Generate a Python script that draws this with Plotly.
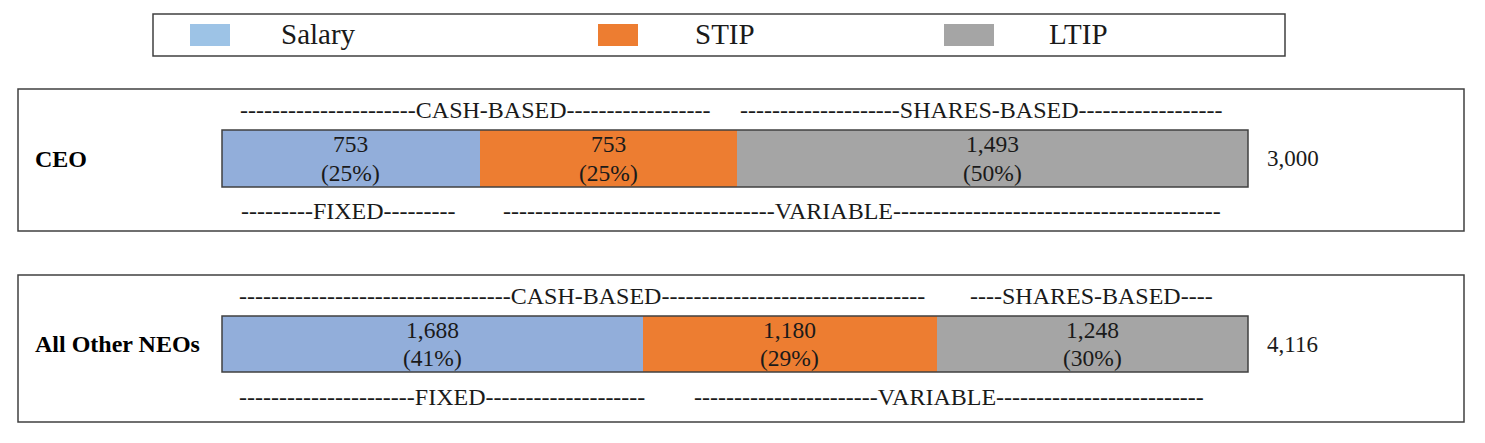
import plotly.graph_objects as go

# ---------------- data ----------------
series = ["Salary", "STIP", "LTIP"]
groups = ["CEO", "All Other NEOs"]
ceo_values = [753, 753, 1493]
neo_values = [1688, 1180, 1248]
totals = [3000, 4116]

# ---------------- style ----------------
W, H = 1485, 443
bar_colors = ["#92AEDA", "#ED7D31", "#A5A5A5"]
legend_colors = ["#9DC3E6", "#ED7D31", "#A5A5A5"]
FONT = "Liberation Serif, Times New Roman, serif"
TXT = "#1a1a1a"
EDGE = "#404040"


def px(x):
    return x / W


def py(y):
    return 1 - y / H


fig = go.Figure()

rows = [("x", "y", ceo_values), ("x2", "y2", neo_values)]
for xa, ya, vals in rows:
    for i, name in enumerate(series):
        fig.add_trace(go.Bar(
            x=[vals[i]], y=[0], orientation="h", name=name,
            xaxis=xa, yaxis=ya, width=1,
            marker=dict(color=bar_colors[i], line=dict(width=0)),
            showlegend=False, hoverinfo="x+name",
        ))

bar_x0, bar_x1 = 222, 1248
bar_y = [(130, 187), (316, 372)]

layout_axes = {}
for k, (vals, (yt, yb)) in enumerate(zip([ceo_values, neo_values], bar_y)):
    sfx = "" if k == 0 else "2"
    layout_axes["xaxis" + sfx] = dict(
        domain=[px(bar_x0), px(bar_x1)], range=[0, sum(vals)],
        visible=False, anchor="y" + sfx, fixedrange=True)
    layout_axes["yaxis" + sfx] = dict(
        domain=[py(yb), py(yt)], range=[-0.5, 0.5],
        visible=False, anchor="x" + sfx, fixedrange=True)

annotations = []
shapes = []

# value labels inside bars (value line + percentage line)
for k, vals in enumerate([ceo_values, neo_values]):
    sfx = "" if k == 0 else "2"
    tot = sum(vals)
    cum = 0
    for v in vals:
        pct = round(100 * v / tot)
        for txt, yy in [(f"{v:,}", 0.25), (f"({pct}%)", -0.25)]:
            annotations.append(dict(
                x=cum + v / 2, y=yy, xref="x" + sfx, yref="y" + sfx,
                text=txt, showarrow=False, yanchor="middle",
                font=dict(family=FONT, size=23.5, color=TXT), align="center"))
        cum += v
    # outline of whole bar
    shapes.append(dict(type="rect", xref="x" + sfx + " domain", yref="y" + sfx + " domain",
                       x0=0, x1=1, y0=0, y1=1, line=dict(color=EDGE, width=1.5)))

# totals to the right
for k, (tot, (yt, yb)) in enumerate(zip(totals, bar_y)):
    annotations.append(dict(
        x=px(1265), y=py((yt + yb) / 2), xref="paper", yref="paper",
        xanchor="left", yanchor="middle", text=f"{tot:,}", showarrow=False,
        font=dict(family=FONT, size=23, color=TXT)))

# group labels
for k, (g, (yt, yb)) in enumerate(zip(groups, bar_y)):
    annotations.append(dict(
        x=px(33), y=py((yt + yb) / 2), xref="paper", yref="paper",
        xanchor="left", yanchor="middle", text=f"<b>{g}</b>", showarrow=False,
        font=dict(family=FONT, size=24, color="#000000")))

# panel boxes
for (y0, y1) in [(89, 231), (275, 422)]:
    shapes.append(dict(type="rect", xref="paper", yref="paper",
                       x0=px(18), x1=px(1464), y0=py(y1), y1=py(y0),
                       line=dict(color=EDGE, width=1.5)))

# dashed bracket labels: (word, left dashes, right dashes, center x, center y)
brackets = [
    ("CASH-BASED", 22, 18, 475, 110),
    ("SHARES-BASED", 20, 18, 981, 110),
    ("FIXED", 9, 9, 348, 211),
    ("VARIABLE", 34, 41, 862, 211),
    ("CASH-BASED", 34, 33, 582, 296),
    ("SHARES-BASED", 4, 4, 1091, 296),
    ("FIXED", 22, 20, 442, 397),
    ("VARIABLE", 23, 26, 949, 397),
]
for word, nl, nr, cx, cy in brackets:
    annotations.append(dict(
        x=px(cx), y=py(cy), xref="paper", yref="paper",
        xanchor="center", yanchor="middle",
        text="-" * nl + word + "-" * nr, showarrow=False,
        font=dict(family=FONT, size=24, color=TXT)))

# legend box
shapes.append(dict(type="rect", xref="paper", yref="paper",
                   x0=px(153), x1=px(1285), y0=py(56), y1=py(14),
                   line=dict(color=EDGE, width=1.5)))
legend_pos = [(190, 230, 279), (598, 638, 693), (944, 994, 1047)]
for name, col, (sx0, sx1, tx) in zip(series, legend_colors, legend_pos):
    shapes.append(dict(type="rect", xref="paper", yref="paper",
                       x0=px(sx0), x1=px(sx1), y0=py(46), y1=py(24),
                       fillcolor=col, line=dict(width=0)))
    annotations.append(dict(
        x=px(tx), y=py(34), xref="paper", yref="paper",
        xanchor="left", yanchor="middle", text=name, showarrow=False,
        font=dict(family=FONT, size=29, color=TXT)))

fig.update_layout(
    width=W, height=H, autosize=False,
    margin=dict(l=0, r=0, t=0, b=0, pad=0),
    paper_bgcolor="white", plot_bgcolor="white",
    barmode="stack", bargap=0, showlegend=False,
    annotations=annotations, shapes=shapes,
    **layout_axes,
)

fig.write_html("out.html")
